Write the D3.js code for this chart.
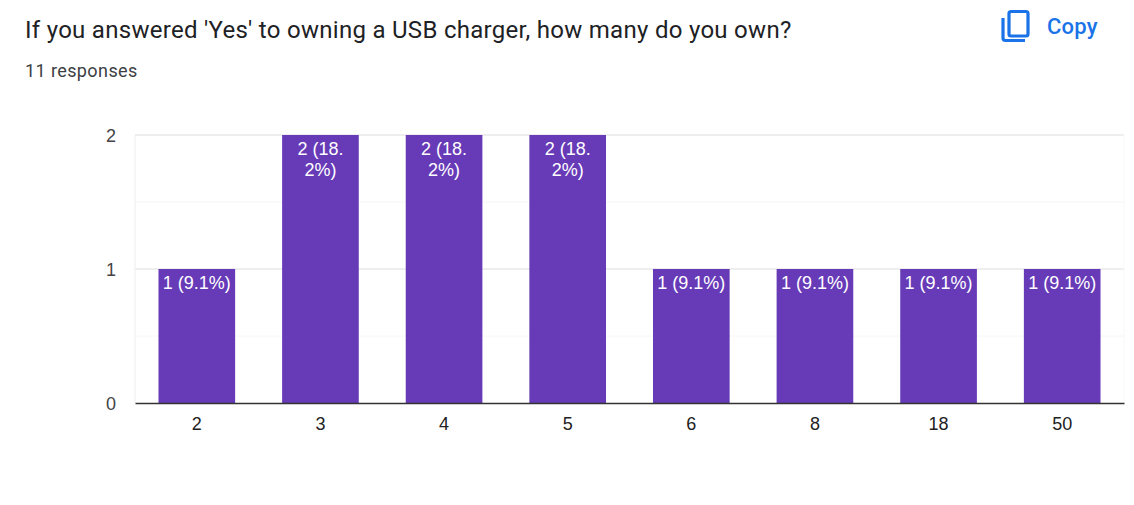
<!DOCTYPE html>
<html>
<head>
<meta charset="utf-8">
<script src="https://cdnjs.cloudflare.com/ajax/libs/d3/7.8.5/d3.min.js"></script>
<style>
  html, body { margin: 0; padding: 0; background: #fff; }
  svg { display: block; }
  .title { font-family: Roboto, sans-serif; font-size: 24px; letter-spacing: 0.285px; fill: #202124; }
  .subtitle { font-family: Roboto, sans-serif; font-size: 18px; letter-spacing: 0.4px; fill: #3c4043; }
  .copy { font-family: Roboto, sans-serif; font-size: 22px; font-weight: 500; letter-spacing: 0.2px; fill: #1a73e8; }
  .tick text { font-family: "Liberation Sans", Arial, sans-serif; font-size: 18px; }
  .x-axis .tick text { fill: #222; }
  .y-axis .tick text { fill: #444; }
  .bar-label { font-family: "Liberation Sans", Arial, sans-serif; font-size: 18px; fill: #fff; text-anchor: middle; }
</style>
</head>
<body>
<div id="chart"></div>
<script>
var categories = ["2", "3", "4", "5", "6", "8", "18", "50"];
var counts = [1, 2, 2, 2, 1, 1, 1, 1];
var barLabels = [
  ["1 (9.1%)"],
  ["2 (18.", "2%)"],
  ["2 (18.", "2%)"],
  ["2 (18.", "2%)"],
  ["1 (9.1%)"],
  ["1 (9.1%)"],
  ["1 (9.1%)"],
  ["1 (9.1%)"]
];
var yTicks = [0, 1, 2];
var minorTicks = [0.5, 1.5];

var width = 1134, height = 505;
var margin = { top: 135, right: 10, bottom: 102, left: 135 };

var svg = d3.select("#chart").append("svg")
  .attr("width", width)
  .attr("height", height);

var x = d3.scaleBand()
  .domain(categories)
  .range([margin.left, width - margin.right])
  .paddingInner(0.38)
  .paddingOuter(0.19);

var y = d3.scaleLinear()
  .domain([0, 2])
  .range([height - margin.bottom, margin.top]);

svg.append("text").attr("class", "title").attr("x", 25).attr("y", 38)
  .text("If you answered 'Yes' to owning a USB charger, how many do you own?");
svg.append("text").attr("class", "subtitle").attr("x", 25).attr("y", 77)
  .text("11 responses");

// copy icon, two rounded outlines
var icon = svg.append("g").attr("fill", "none").attr("stroke", "#1a73e8").attr("stroke-width", 3.2);
icon.append("rect").attr("x", 1009).attr("y", 11.5).attr("width", 19).attr("height", 24.5).attr("rx", 2);
icon.append("path").attr("d", "M1003 18V38a2.5 2.5 0 0 0 2.5 2.5H1025");
svg.append("text").attr("class", "copy").attr("x", 1047).attr("y", 33.5).text("Copy");

// gridlines
svg.append("g").selectAll("line")
  .data(minorTicks)
  .enter().append("line")
  .attr("x1", margin.left).attr("x2", width - margin.right)
  .attr("y1", function(d) { return y(d); })
  .attr("y2", function(d) { return y(d); })
  .attr("stroke", "#f6f6f6");

svg.append("g").selectAll("line")
  .data(yTicks.slice(1))
  .enter().append("line")
  .attr("x1", margin.left).attr("x2", width - margin.right)
  .attr("y1", function(d) { return y(d); })
  .attr("y2", function(d) { return y(d); })
  .attr("stroke", "#eeeeee")
  .attr("stroke-width", 2);

svg.append("line")
  .attr("x1", margin.left).attr("x2", margin.left)
  .attr("y1", y(2)).attr("y2", y(0))
  .attr("stroke", "#eeeeee");

svg.append("line")
  .attr("x1", width - margin.right).attr("x2", width - margin.right)
  .attr("y1", y(2)).attr("y2", y(0))
  .attr("stroke", "#f8f8f8");

// bars
svg.append("g").selectAll("rect")
  .data(counts)
  .enter().append("rect")
  .attr("x", function(d, i) { return x(categories[i]); })
  .attr("y", function(d) { return y(d); })
  .attr("width", x.bandwidth())
  .attr("height", function(d) { return y(0) - y(d); })
  .attr("fill", "#673ab7");

// labels inside the bars
var labels = svg.append("g").selectAll("text")
  .data(barLabels)
  .enter().append("text")
  .attr("class", "bar-label")
  .attr("x", function(d, i) { return x(categories[i]) + x.bandwidth() / 2; })
  .attr("y", function(d, i) { return y(counts[i]) + 20; });

labels.selectAll("tspan")
  .data(function(d) { return d; })
  .enter().append("tspan")
  .attr("x", function() { return d3.select(this.parentNode).attr("x"); })
  .attr("dy", function(d, i) { return i == 0 ? 0 : 20.5; })
  .text(function(d) { return d; });

// axes
var xAxis = svg.append("g")
  .attr("class", "x-axis")
  .attr("transform", "translate(0," + y(0) + ")")
  .call(d3.axisBottom(x).tickSize(0).tickPadding(14));
xAxis.select(".domain").attr("stroke", "#333").attr("stroke-width", 1.6);

var yAxis = svg.append("g")
  .attr("class", "y-axis")
  .attr("transform", "translate(" + margin.left + ",0.5)")
  .call(d3.axisLeft(y).tickValues(yTicks).tickFormat(d3.format("d")).tickSize(0).tickPadding(19));
yAxis.select(".domain").remove();
</script>
</body>
</html>
